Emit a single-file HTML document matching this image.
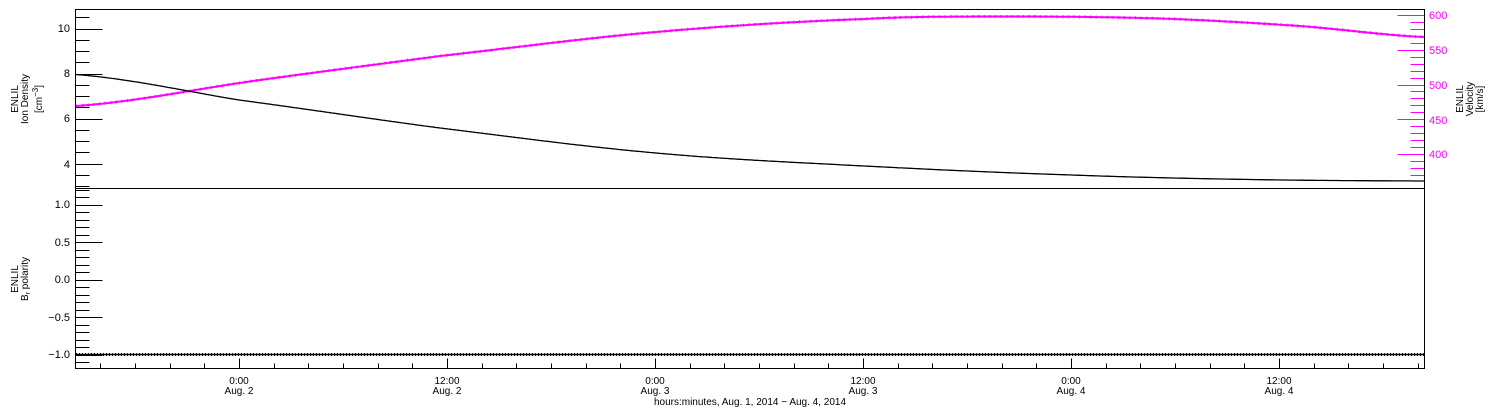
<!DOCTYPE html>
<html><head><meta charset="utf-8"><style>
body{margin:0;background:#fff}
svg{display:block;font-family:"Liberation Sans",sans-serif}
</style></head><body>
<svg id="s" width="1500" height="410" viewBox="0 0 1500 410" xmlns="http://www.w3.org/2000/svg">
<rect width="1500" height="410" fill="#fff"/>
<g id="g"></g>
<rect x="75.5" y="9.5" width="1349" height="359" fill="none" stroke="#000" stroke-width="1"/>
<line x1="75.5" y1="188.5" x2="1424.5" y2="188.5" stroke="#000"/>
<g font-size="11" text-anchor="end">
<text x="70" y="32">10</text><text x="70" y="77">8</text><text x="70" y="122">6</text><text x="70" y="168">4</text>
<text x="70" y="208">1.0</text><text x="70" y="246">0.5</text><text x="70" y="283">0.0</text><text x="70" y="321">−0.5</text><text x="70" y="358">−1.0</text>
</g>
<g font-size="11" fill="#ff00ff">
<text x="1429" y="19">600</text><text x="1429" y="54">550</text><text x="1429" y="89">500</text><text x="1429" y="124">450</text><text x="1429" y="158">400</text>
</g>
<g font-size="10" text-anchor="middle">
<text x="239" y="384">0:00</text><text x="239" y="394">Aug. 2</text>
<text x="447" y="384">12:00</text><text x="447" y="394">Aug. 2</text>
<text x="655" y="384">0:00</text><text x="655" y="394">Aug. 3</text>
<text x="863" y="384">12:00</text><text x="863" y="394">Aug. 3</text>
<text x="1071" y="384">0:00</text><text x="1071" y="394">Aug. 4</text>
<text x="1279" y="384">12:00</text><text x="1279" y="394">Aug. 4</text>
<text x="750" y="405">hours:minutes, Aug.  1, 2014 − Aug.  4, 2014</text>
</g>
<g font-size="10" text-anchor="middle">
<text transform="translate(18,99) rotate(-90)">ENLIL</text>
<text transform="translate(28,99) rotate(-90)">Ion Density</text>
<text transform="translate(42,99) rotate(-90)">[cm<tspan font-size="8" dy="-4">−3</tspan><tspan dy="4">]</tspan></text>
<text transform="translate(1463,99) rotate(-90)">ENLIL</text>
<text transform="translate(1473,99) rotate(-90)">Velocity</text>
<text transform="translate(1483,99) rotate(-90)">[km/s]</text>
<text transform="translate(18,279) rotate(-90)">ENLIL</text>
<text transform="translate(28,279) rotate(-90)">B<tspan font-size="7" dy="2">r</tspan><tspan dy="-2"> polarity</tspan></text>
</g>
</svg>
<script>
var g=document.getElementById('g'),h='';
function L(x1,y1,x2,y2,c){h+='<line x1="'+x1+'" y1="'+y1+'" x2="'+x2+'" y2="'+y2+'" stroke="'+c+'"/>';}
for(var v=3;v<=10.75;v+=0.5){var y=Math.round(28.5+(10-v)*22.5)+0.5;if(y<10||y>188)continue;L(75.5,y,75.5+(v%2==0?27:14),y,'#000');}
for(var v=370;v<=600;v+=10){var y=Math.round(15+(600-v)*0.695)+0.5;if(y>188)continue;L(1424.5,y,1424.5-(v%50==0?27:14),y,'#ff00ff');}
L(1424.5,9.5,1424.5,188.5,'#ff00ff');
for(var i=-12;i<=12;i++){var v=i/10;var y=Math.round(279.5-v*75)+0.5;if(y<189||y>368)continue;L(75.5,y,75.5+(i%5==0?27:14),y,'#000');}
for(var k=-4;k<=34;k++){var x=Math.round(239+k*34.67)+0.5;if(x<76||x>1424)continue;var len=(k%6==0)?10:5;L(x,368.5,x,368.5-len,'#000');}
function cr(pts,x){var n=pts.length;for(var i=0;i<n-1;i++){if(x<=pts[i+1][0]||i==n-2){var p0=pts[Math.max(i-1,0)],p1=pts[i],p2=pts[i+1],p3=pts[Math.min(i+2,n-1)];var t=(x-p1[0])/(p2[0]-p1[0]);var t2=t*t,t3=t2*t;return 0.5*((2*p1[1])+(-p0[1]+p2[1])*t+(2*p0[1]-5*p1[1]+4*p2[1]-p3[1])*t2+(-p0[1]+3*p1[1]-3*p2[1]+p3[1])*t3);}}}
var dens=[[76,74.5],[239,100],[440,128],[656,153],[864,166],[1072,175],[1250,179.5],[1424,181]];
var vel=[[76,106],[260,80],[440,56],[656,32],[864,19],[1000,16.5],[1160,18.5],[1300,26],[1424,37]];
var d='',m='',mk='';
for(var x=76;x<=1424;x+=2){var y=cr(dens,x);d+=(x==76?'M':'L')+x+' '+y.toFixed(1);}
for(var x=76;x<=1424;x+=2){var y=cr(vel,x);m+=(x==76?'M':'L')+x+' '+y.toFixed(1);}
for(var x=77;x<=1424;x+=5.6){var y=cr(vel,x);mk+='M'+(x-1.5).toFixed(1)+' '+y.toFixed(1)+'h3M'+x.toFixed(1)+' '+(y-1.5).toFixed(1)+'v3';}
h+='<path d="'+m+'" fill="none" stroke="#ff00ff" stroke-width="2"/>';
h+='<path d="'+mk+'" fill="none" stroke="#ff00ff" stroke-width="1"/>';
h+='<path d="'+d+'" fill="none" stroke="#000" stroke-width="1.3"/>';
h+='<line x1="76" y1="354.5" x2="1424" y2="354.5" stroke="#000" stroke-width="1.5"/>';
h+='<line x1="76" y1="354.5" x2="1424" y2="354.5" stroke="#000" stroke-width="3" stroke-dasharray="1 2"/>';
g.innerHTML=h;
</script>
</body></html>
